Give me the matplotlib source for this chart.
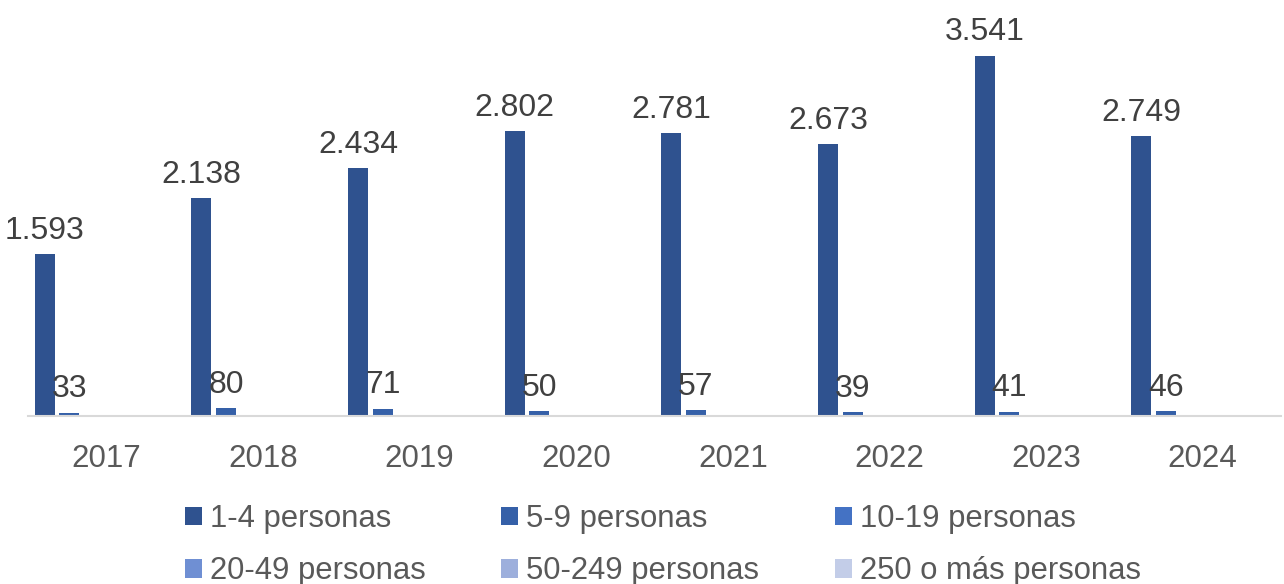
import matplotlib.pyplot as plt
import numpy as np

plt.rcParams['font.family'] = ['Liberation Sans', 'DejaVu Sans']

years = ["2017", "2018", "2019", "2020", "2021", "2022", "2023", "2024"]
series_names = ["1-4 personas", "5-9 personas", "10-19 personas",
                "20-49 personas", "50-249 personas", "250 o más personas"]
p1_4 = [1593, 2138, 2434, 2802, 2781, 2673, 3541, 2749]
p5_9 = [33, 80, 71, 50, 57, 39, 41, 46]
p10_19 = [2, 8, 5, 9, 7, 1, 10, 2]
p20_49 = [0, 1, 1, 2, 1, 0, 1, 0]
p50_249 = [0, 0, 0, 1, 0, 0, 0, 0]
p250 = [0, 0, 0, 0, 0, 0, 0, 0]
series = [p1_4, p5_9, p10_19, p20_49, p50_249, p250]
colors = ["#2F528F", "#3560A8", "#4472C4", "#6F8FD3", "#9DAFDC", "#C3CDE8"]

fig = plt.figure(figsize=(12.84, 5.84), dpi=100)
ax = fig.add_axes([28 / 1284, 1 - 416 / 584, 1253 / 1284, 407 / 584])

x = np.arange(len(years))
pitch = 0.157
width = 0.128
offsets = (np.arange(6) - 2.5) * pitch

handles = []
for i, (vals, name, col) in enumerate(zip(series, series_names, colors)):
    bars = ax.bar(x + offsets[i], vals, width, color=col, label=name)
    handles.append(bars)
    if i < 2:
        labels = [f"{v:,}".replace(",", ".") for v in vals]
        ax.bar_label(bars, labels=labels, padding=6, fontsize=23, color="#404040")

ax.set_xlim(-0.5, len(years) - 0.5)
ax.set_ylim(0, 4000)
ax.set_xticks(x)
ax.set_xticklabels(years, fontsize=22.5, color="#595959")
ax.tick_params(axis="x", length=0, pad=20)
ax.set_yticks([])
for s in ["top", "right", "left"]:
    ax.spines[s].set_visible(False)
ax.spines["bottom"].set_color("#D9D9D9")
ax.spines["bottom"].set_linewidth(1.5)

# orden por filas: matplotlib rellena la leyenda por columnas
order = [0, 3, 1, 4, 2, 5]
fig.legend([handles[k] for k in order], [series_names[k] for k in order],
           loc="upper left", bbox_to_anchor=(157 / 1284, 1 - 476 / 584), ncol=3,
           frameon=False, fontsize=22.3, labelcolor="#595959",
           handlelength=0.55, handleheight=0.55, handletextpad=0.25,
           columnspacing=2.45, labelspacing=0.72)

plt.savefig("out.png", dpi=100)
